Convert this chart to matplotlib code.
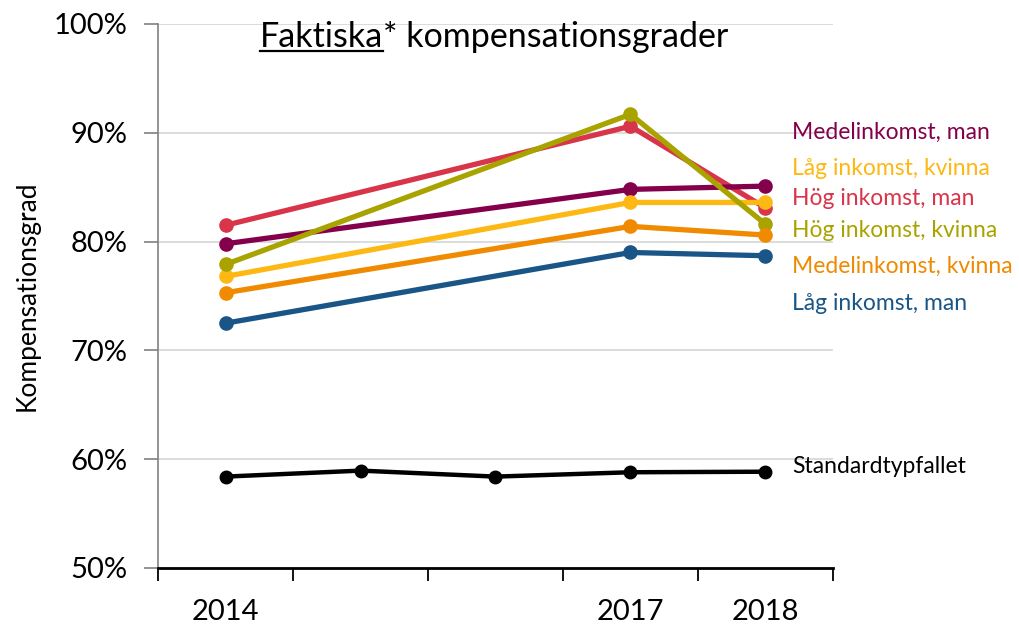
import numpy as np
import matplotlib.pyplot as plt
from matplotlib.lines import Line2D

#%% Data
years = ['2014', '2015', '2016', '2017', '2018']
year_labels = ['2014', '', '', '2017', '2018']

series_names = ['Hög inkomst, man', 'Medelinkomst, man', 'Låg inkomst, kvinna',
                'Hög inkomst, kvinna', 'Medelinkomst, kvinna', 'Låg inkomst, man']
hog_man = [81.5, np.nan, np.nan, 90.6, 83.1]
medel_man = [79.8, np.nan, np.nan, 84.8, 85.1]
lag_kvinna = [76.8, np.nan, np.nan, 83.6, 83.6]
hog_kvinna = [77.9, np.nan, np.nan, 91.7, 81.6]
medel_kvinna = [75.3, np.nan, np.nan, 81.4, 80.6]
lag_man = [72.5, np.nan, np.nan, 79.0, 78.7]
standard = [58.4, 58.95, 58.4, 58.8, 58.85]

colors = {'Hög inkomst, man': '#D8344A', 'Medelinkomst, man': '#85004B',
          'Låg inkomst, kvinna': '#FDB813', 'Hög inkomst, kvinna': '#A9A300',
          'Medelinkomst, kvinna': '#F08A00', 'Låg inkomst, man': '#1A5587'}
values = dict(zip(series_names, [hog_man, medel_man, lag_kvinna, hog_kvinna, medel_kvinna, lag_man]))

# label order / y position on the right (data units)
label_order = ['Medelinkomst, man', 'Låg inkomst, kvinna', 'Hög inkomst, man',
               'Hög inkomst, kvinna', 'Medelinkomst, kvinna', 'Låg inkomst, man']
label_y = [90.05, 86.75, 83.95, 81.0, 77.75, 74.35]

#%% Plot
plt.rcParams['font.family'] = ['Lato', 'DejaVu Sans']
fig = plt.figure(figsize=(10.2, 6.24), dpi=100)
ax = fig.add_axes([158/1020, 56/624, 675/1020, 544/624])

x = np.arange(len(years))
for name in series_names:
    y = np.array(values[name], dtype=float)
    m = ~np.isnan(y)
    ax.plot(x[m], y[m], color=colors[name], lw=3.8, marker='o', ms=9.5, solid_capstyle='round', zorder=3)
ax.plot(x, standard, color='black', lw=3.2, marker='o', ms=9, zorder=3)

for name, yl in zip(label_order, label_y):
    ax.text(4.2, yl, name, color=colors[name], fontsize=16.5, va='center', ha='left', clip_on=False)
ax.text(4.2, 59.35, 'Standardtypfallet', color='black', fontsize=16.5, va='center', ha='left', clip_on=False)

ax.set_xlim(-0.5, 4.5)
ax.set_ylim(50, 100)
ax.set_yticks(np.arange(50, 101, 10))
ax.set_yticklabels([f'{v}%' for v in range(50, 101, 10)], fontsize=21)
ax.yaxis.grid(True, color='#D9D9D9', lw=1.3)
ax.set_axisbelow(True)

ax.set_xticks(np.arange(-0.5, 4.6, 1.0))
ax.set_xticklabels([])
ax.set_xticks(x, minor=True)
ax.set_xticklabels(year_labels, minor=True, fontsize=21)
ax.tick_params(axis='x', which='major', length=9, width=1.3, color='black', direction='out')
ax.tick_params(axis='x', which='minor', length=0, pad=22)
ax.tick_params(axis='y', length=10, width=1.2, color='#808080', pad=12)

for s in ['top', 'right']:
    ax.spines[s].set_visible(False)
ax.spines['left'].set_color('#808080')
ax.spines['left'].set_linewidth(1.2)
ax.spines['bottom'].set_color('black')
ax.spines['bottom'].set_linewidth(2)

ax.set_ylabel('Kompensationsgrad', fontsize=19, labelpad=10)

# Title with underlined first word
t1 = fig.text(260/1020, 1 - 47/624, 'Faktiska', fontsize=24.5, ha='left', va='baseline')
fig.canvas.draw()
bb = t1.get_window_extent()
fig.text(bb.x1/1020, 1 - 47/624, '* kompensationsgrader', fontsize=24.5, ha='left', va='baseline')
uy = (624 - 51) / 624
fig.add_artist(Line2D([bb.x0/1020, bb.x1/1020], [uy, uy], color='black', lw=1.6))

fig.savefig('out.png', dpi=100)
